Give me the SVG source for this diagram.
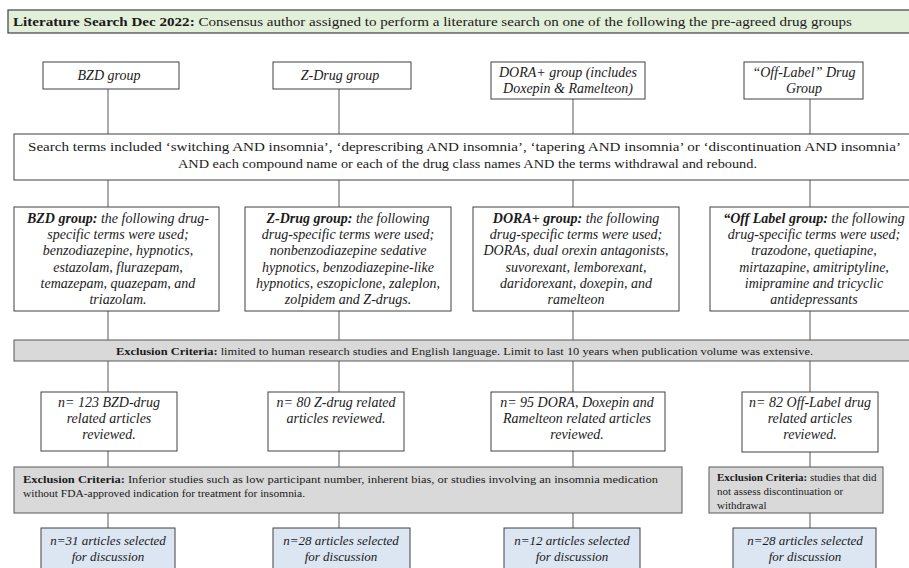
<svg xmlns="http://www.w3.org/2000/svg" width="909" height="568" viewBox="0 0 909 568">
<style>
text{font-family:"Liberation Serif","Times New Roman",serif;fill:#1a1a1a}
.box{fill:#fff;stroke:#404040;stroke-width:1}
.ban{fill:#e2efd9;stroke:#404040;stroke-width:1.2}
.ex{fill:#d9d9d9;stroke:#595959;stroke-width:1}
.fin{fill:#dce6f2;stroke:#404040;stroke-width:1}
.con line{stroke:#7f7f7f;stroke-width:1.3}
.it{font-style:italic}
.c{text-anchor:middle}
.h1{font-size:14px}
.h2{font-size:14px}
.h3{font-size:13px}
.s{font-size:13px}
.x{font-size:11px}
.b{font-weight:bold}
</style>
<rect width="909" height="568" fill="#fff"/>
<g id="connectors" class="con">
<line x1="108" y1="89" x2="108" y2="134"/>
<line x1="339" y1="89" x2="339" y2="134"/>
<line x1="573" y1="99" x2="573" y2="134"/>
<line x1="810" y1="99" x2="810" y2="134"/>
<line x1="108" y1="180" x2="108" y2="207"/>
<line x1="339" y1="180" x2="339" y2="207"/>
<line x1="573" y1="180" x2="573" y2="207"/>
<line x1="810" y1="180" x2="810" y2="207"/>
<line x1="108" y1="311" x2="108" y2="340"/>
<line x1="339" y1="311" x2="339" y2="340"/>
<line x1="573" y1="311" x2="573" y2="340"/>
<line x1="810" y1="311" x2="810" y2="340"/>
<line x1="108" y1="361" x2="108" y2="392"/>
<line x1="339" y1="361" x2="339" y2="392"/>
<line x1="573" y1="361" x2="573" y2="392"/>
<line x1="810" y1="361" x2="810" y2="392"/>
<line x1="108" y1="451" x2="108" y2="467"/>
<line x1="339" y1="451" x2="339" y2="467"/>
<line x1="573" y1="451" x2="573" y2="467"/>
<line x1="810" y1="452" x2="810" y2="467"/>
<line x1="108" y1="513" x2="108" y2="528"/>
<line x1="339" y1="513" x2="339" y2="528"/>
<line x1="573" y1="513" x2="573" y2="528"/>
<line x1="810" y1="513" x2="810" y2="528"/>
</g>
<g id="banner">
<rect class="ban" x="8" y="10" width="910" height="23"/>
<text x="13" y="26" font-size="13.5" textLength="839" lengthAdjust="spacingAndGlyphs"><tspan class="b">Literature Search Dec 2022:</tspan> Consensus author assigned to perform a literature search on one of the following the pre-agreed drug groups</text>
</g>
<g id="bzd-group">
<rect class="box" x="43" y="62" width="136" height="27"/>
<text class="it c h1" x="109" y="80">BZD group</text>
</g>
<g id="zdrug-group">
<rect class="box" x="273" y="62" width="138" height="27"/>
<text class="it c h1" x="340" y="80">Z-Drug group</text>
</g>
<g id="dora-group">
<rect class="box" x="491" y="62" width="154" height="37"/>
<text class="it c h1" x="568" y="77">DORA+ group (includes</text>
<text class="it c h1" x="568" y="93">Doxepin &amp; Ramelteon)</text>
</g>
<g id="offlabel-group">
<rect class="box" x="744" y="62" width="119" height="37"/>
<text class="it c h1" x="804" y="77">“Off-Label” Drug</text>
<text class="it c h1" x="804" y="93">Group</text>
</g>
<g id="search-terms">
<rect class="box" x="14" y="134" width="905" height="46"/>
<text class="s" x="28" y="151" textLength="873" lengthAdjust="spacingAndGlyphs">Search terms included ‘switching AND insomnia’, ‘deprescribing AND insomnia’, ‘tapering AND insomnia’ or ‘discontinuation AND insomnia’</text>
<text class="s" x="178" y="168" textLength="579" lengthAdjust="spacingAndGlyphs">AND each compound name or each of the drug class names AND the terms withdrawal and rebound.</text>
</g>
<g id="bzd-terms">
<rect class="box" x="14" y="207" width="205" height="104"/>
<text class="it c h2" x="118"><tspan x="118" y="223"><tspan class="b">BZD group:</tspan> the following drug-</tspan><tspan x="118" y="239">specific terms were used;</tspan><tspan x="118" y="255">benzodiazepine, hypnotics,</tspan><tspan x="118" y="272">estazolam, flurazepam,</tspan><tspan x="118" y="288">temazepam, quazepam, and</tspan><tspan x="118" y="304">triazolam.</tspan></text>
</g>
<g id="zdrug-terms">
<rect class="box" x="245" y="207" width="206" height="104"/>
<text class="it c h2" x="348"><tspan x="348" y="223"><tspan class="b">Z-Drug group:</tspan> the following</tspan><tspan x="348" y="239">drug-specific terms were used;</tspan><tspan x="348" y="255">nonbenzodiazepine sedative</tspan><tspan x="348" y="272">hypnotics, benzodiazepine-like</tspan><tspan x="348" y="288">hypnotics, eszopiclone, zaleplon,</tspan><tspan x="348" y="304">zolpidem and Z-drugs.</tspan></text>
</g>
<g id="dora-terms">
<rect class="box" x="473" y="207" width="206" height="104"/>
<text class="it c h2" x="576"><tspan x="576" y="223"><tspan class="b">DORA+ group:</tspan> the following</tspan><tspan x="576" y="239">drug-specific terms were used;</tspan><tspan x="576" y="255">DORAs, dual orexin antagonists,</tspan><tspan x="576" y="272">suvorexant, lemborexant,</tspan><tspan x="576" y="288">daridorexant, doxepin, and</tspan><tspan x="576" y="304">ramelteon</tspan></text>
</g>
<g id="offlabel-terms">
<rect class="box" x="710" y="207" width="210" height="104"/>
<text class="it c h2" x="814"><tspan x="814" y="223"><tspan class="b">“Off Label group:</tspan> the following</tspan><tspan x="814" y="239">drug-specific terms were used;</tspan><tspan x="814" y="255">trazodone, quetiapine,</tspan><tspan x="814" y="272">mirtazapine, amitriptyline,</tspan><tspan x="814" y="288">imipramine and tricyclic</tspan><tspan x="814" y="304">antidepressants</tspan></text>
</g>
<g id="exclusion-1">
<rect class="ex" x="14" y="340" width="905" height="21"/>
<text class="x" x="116" y="355" textLength="697" lengthAdjust="spacingAndGlyphs"><tspan class="b">Exclusion Criteria:</tspan> limited to human research studies and English language. Limit to last 10 years when publication volume was extensive.</text>
</g>
<g id="bzd-n">
<rect class="box" x="41" y="392" width="136" height="59"/>
<text class="it c h1" x="109"><tspan x="109" y="407">n= 123 BZD-drug</tspan><tspan x="109" y="423">related articles</tspan><tspan x="109" y="439">reviewed.</tspan></text>
</g>
<g id="zdrug-n">
<rect class="box" x="268" y="392" width="136" height="59"/>
<text class="it c h1" x="336"><tspan x="336" y="407">n= 80 Z-drug related</tspan><tspan x="336" y="423">articles reviewed.</tspan></text>
</g>
<g id="dora-n">
<rect class="box" x="491" y="392" width="174" height="59"/>
<text class="it c h1" x="577"><tspan x="577" y="407">n= 95 DORA, Doxepin and</tspan><tspan x="577" y="423">Ramelteon related articles</tspan><tspan x="577" y="439">reviewed.</tspan></text>
</g>
<g id="offlabel-n">
<rect class="box" x="742" y="392" width="136" height="60"/>
<text class="it c h1" x="810"><tspan x="810" y="407">n= 82 Off-Label drug</tspan><tspan x="810" y="423">related articles</tspan><tspan x="810" y="439">reviewed.</tspan></text>
</g>
<g id="exclusion-2">
<rect class="ex" x="14" y="467" width="668" height="46"/>
<text class="x" x="23" y="483" textLength="635" lengthAdjust="spacingAndGlyphs"><tspan class="b">Exclusion Criteria:</tspan> Inferior studies such as low participant number, inherent bias, or studies involving an insomnia medication</text>
<text class="x" x="23" y="497" textLength="282" lengthAdjust="spacingAndGlyphs">without FDA-approved indication for treatment for insomnia.</text>
</g>
<g id="exclusion-3">
<rect class="ex" x="709" y="467" width="174" height="46"/>
<text class="x" x="717"><tspan x="717" y="481"><tspan class="b">Exclusion Criteria:</tspan> studies that did</tspan><tspan x="717" y="495">not assess discontinuation or</tspan><tspan x="717" y="509">withdrawal</tspan></text>
</g>
<g id="bzd-final">
<rect class="fin" x="41" y="528" width="134" height="50"/>
<text class="it c h3" x="108"><tspan x="108" y="545">n=31 articles selected</tspan><tspan x="108" y="561">for discussion</tspan></text>
</g>
<g id="zdrug-final">
<rect class="fin" x="273" y="528" width="137" height="50"/>
<text class="it c h3" x="341"><tspan x="341" y="545">n=28 articles selected</tspan><tspan x="341" y="561">for discussion</tspan></text>
</g>
<g id="dora-final">
<rect class="fin" x="504" y="528" width="136" height="50"/>
<text class="it c h3" x="572"><tspan x="572" y="545">n=12 articles selected</tspan><tspan x="572" y="561">for discussion</tspan></text>
</g>
<g id="offlabel-final">
<rect class="fin" x="733" y="528" width="143" height="50"/>
<text class="it c h3" x="805"><tspan x="805" y="545">n=28 articles selected</tspan><tspan x="805" y="561">for discussion</tspan></text>
</g>
</svg>
